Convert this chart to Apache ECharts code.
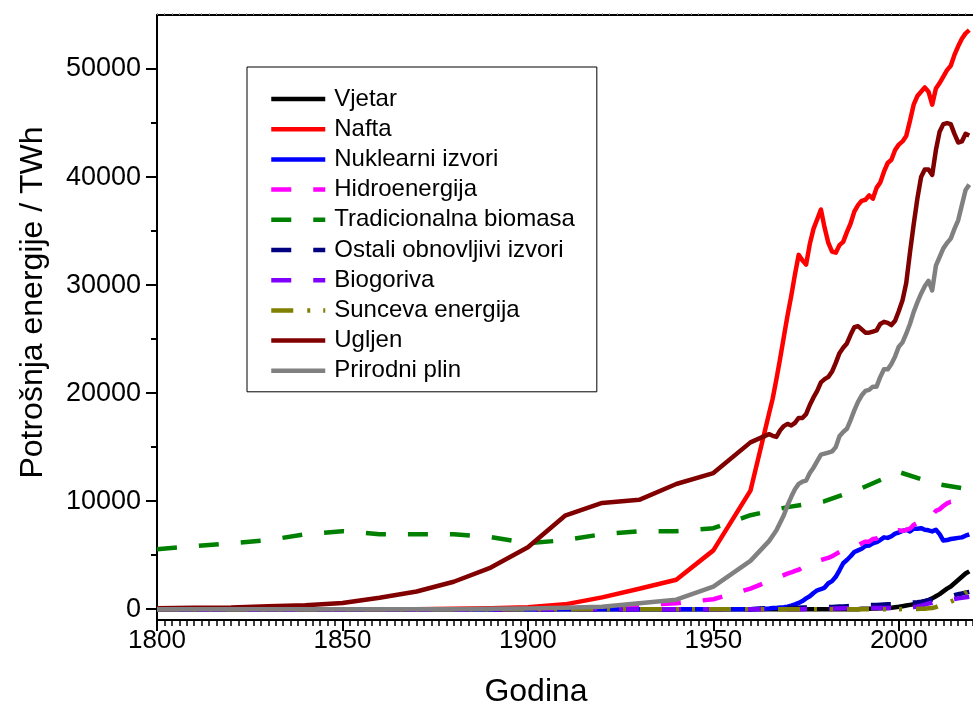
<!DOCTYPE html>
<html>
<head>
<meta charset="utf-8">
<script src="https://cdn.jsdelivr.net/npm/echarts@6/dist/echarts.min.js"></script>
<style>
html,body{margin:0;padding:0;background:#fff;}
#chart{width:973px;height:706px;}
</style>
</head>
<body>
<div id="chart"></div>
<script>
// ---- data (TWh) ----
const years = [1800,1810,1820,1830,1840,1850,1860,1870,1880,1890,1900,1910,1920,1930,1940,1950,1960,
  1965,1966,1967,1968,1969,1970,1971,1972,1973,1974,1975,1976,1977,1978,1979,1980,1981,1982,1983,1984,
  1985,1986,1987,1988,1989,1990,1991,1992,1993,1994,1995,1996,1997,1998,1999,2000,2001,2002,2003,2004,
  2005,2006,2007,2008,2009,2010,2011,2012,2013,2014,2015,2016,2017,2018,2019];

const seriesNames = ["Vjetar","Nafta","Nuklearni izvori","Hidroenergija","Tradicionalna biomasa",
  "Ostali obnovljivi izvori","Biogoriva","Sunceva energija","Ugljen","Prirodni plin"];

const wind = [0,0,0,0,0,0,0,0,0,0,0,0,0,0,0,0,0,
  0,0,0,0,0,0,0,0,0,0,0,0,0,0,0,0,0,0,0,0,
  0,0,0,0,0,40,45,50,60,70,80,90,110,140,180,220,280,340,400,450,
  520,600,720,850,1000,1200,1400,1650,1900,2100,2400,2700,3000,3300,3500];

const oil = [0,0,0,0,0,0,0,6,33,89,181,447,1097,1889,2722,5444,10972,
  18100,19500,21300,23200,25200,27200,29000,31000,32800,32300,31900,33800,35200,36100,37000,35300,33900,33100,33000,33700,
  34000,34900,35700,36800,37400,37800,37900,38300,38000,39000,39500,40500,41300,41600,42500,43000,43300,43800,45200,46700,
  47500,47900,48300,47900,46700,48200,48700,49300,49900,50300,51300,52100,52800,53300,53600];

const nuclear = [0,0,0,0,0,0,0,0,0,0,0,0,0,0,0,0,0,
  70,100,120,150,180,230,330,450,580,750,1000,1200,1500,1750,1850,2000,2400,2600,3000,3600,
  4250,4550,4900,5300,5450,5600,5850,5900,6100,6200,6400,6650,6600,6750,7000,7100,7250,7350,7200,7450,
  7450,7500,7350,7300,7200,7350,6950,6350,6400,6500,6550,6600,6650,6800,6920];

const hydro = [0,0,0,0,0,0,0,0,0,0,0,100,180,350,560,920,1900,
  2600,2750,2850,3000,3150,3300,3400,3550,3650,3850,3950,4000,4100,4350,4550,4650,4750,4900,5100,5300,
  5500,5550,5650,5850,5900,6100,6250,6250,6500,6550,6800,6900,7000,7050,7150,7300,7250,7350,7450,7800,
  8000,8250,8350,8650,8700,9100,9250,9550,9800,9950,9950,10150,10250,10450,10550];

const biomass = [5556,5833,6111,6389,6944,7222,6944,6944,6944,6667,6111,6389,6944,7222,7222,7500,8700,
  null,null,null,null,null,9450,null,null,null,null,null,null,null,null,null,10000,null,null,null,null,
  null,null,null,null,null,11200,null,null,null,null,null,null,null,null,null,12700,null,null,null,null,
  null,null,null,null,null,11600,null,null,null,null,null,null,null,null,11100];

const otherRenew = [0,0,0,0,0,0,0,0,0,0,0,0,0,0,0,0,0,
  100,105,110,115,120,130,135,140,145,150,150,160,165,170,175,180,195,210,225,240,
  260,280,300,320,340,360,370,380,390,400,420,440,460,470,490,500,530,560,590,620,
  650,700,760,830,890,950,1020,1080,1140,1200,1300,1380,1450,1530,1600];

const biofuels = [0,0,0,0,0,0,0,0,0,0,0,0,0,0,0,0,0,
  0,0,0,0,0,0,0,0,0,5,10,15,20,25,28,30,40,50,60,70,
  80,85,90,95,98,100,100,102,104,106,110,112,114,115,118,120,130,150,180,210,
  250,320,420,530,600,700,750,800,850,900,950,1000,1050,1100,1140];

const solar = [0,0,0,0,0,0,0,0,0,0,0,0,0,0,0,0,0,
  0,0,0,0,0,0,0,0,0,0,0,0,0,0,0,0,0,0,0,0,
  0,0,0,0,0,0,0,0,0,0,0,0,0,0,0,5,7,9,12,15,
  20,30,45,80,110,190,330,450,560,700,850,1050,1300,1550,1800];

const coal = [97,128,153,264,356,569,1061,1642,2542,3856,5728,8656,9833,10125,11586,12603,15442,
  16200,16050,15950,16550,16950,17150,17000,17250,17700,17700,18050,18900,19600,20200,21000,21300,21500,22000,22800,23700,
  24200,24600,25400,26100,26200,25900,25600,25600,25700,25800,26400,26600,26500,26300,26700,27600,28600,30200,33000,35600,
  38000,40000,40700,40700,40200,42500,44200,44900,45000,44900,44000,43200,43300,44000,43850];

const gas = [0,0,0,0,0,0,0,0,0,40,64,142,233,550,875,2092,4472,
  6300,6800,7300,8000,8700,9600,10400,11100,11600,11800,11900,12600,13100,13700,14300,14400,14500,14600,15000,16000,
  16400,16700,17500,18400,19200,19800,20200,20300,20600,20600,21500,22200,22200,22700,23400,24300,24700,25500,26400,27500,
  28400,29200,29900,30400,29500,31800,32600,33400,33900,34300,35200,36000,37400,38800,39300];

const xMajorTicks = [1800,1850,1900,1950,2000];
const yMajorTicks = [0,10000,20000,30000,40000,50000];
const yMinorTicks = [5000,15000,25000,35000,45000];

// ---- chart ----
const FONT = "'Liberation Sans', Arial, sans-serif";
const solid = 'solid';
const dash = [20, 22];
const dashDotDot = [22, 14, 3, 13, 3, 14];
const styles = [
  {c:'#000000', t:solid},
  {c:'#FF0000', t:solid},
  {c:'#0000FF', t:solid},
  {c:'#FF00FF', t:dash},
  {c:'#008000', t:dash},
  {c:'#000080', t:dash},
  {c:'#8000FF', t:dash},
  {c:'#808000', t:dashDotDot},
  {c:'#800000', t:solid},
  {c:'#808080', t:solid}
];
const values = [wind, oil, nuclear, hydro, biomass, otherRenew, biofuels, solar, coal, gas];

const series = seriesNames.map((name, k) => ({
  name: name,
  type: 'line',
  xAxisIndex: 0,
  yAxisIndex: 0,
  symbol: 'none',
  connectNulls: true,
  animation: false,
  lineStyle: {color: styles[k].c, width: 4.5, type: styles[k].t, cap: 'butt', join: 'round'},
  itemStyle: {color: styles[k].c},
  data: years.map((y, i) => [y, values[k][i]])
}));

const plain = v => String(Math.round(v));

const chart = echarts.init(document.getElementById('chart'), null, {renderer: 'canvas'});
chart.setOption({
  backgroundColor: '#fff',
  animation: false,
  grid: {left: 157, right: 0, top: 15, bottom: 86, containLabel: false, outerBoundsMode: 'none'},
  xAxis: [
    {
      type: 'value', position: 'bottom', min: 1800, max: 2020,
      name: 'Godina', nameLocation: 'middle', nameGap: 56,
      nameTextStyle: {fontSize: 32, fontFamily: FONT, color: '#000', padding: [0, 58, 0, 0]},
      axisLine: {show: true, onZero: false, lineStyle: {color: '#000', width: 2}},
      axisTick: {show: true, customValues: xMajorTicks, length: 11, lineStyle: {color: '#000', width: 2}},
      axisLabel: {show: true, customValues: xMajorTicks, formatter: plain, fontSize: 26, fontFamily: FONT, color: '#000', margin: 8},
      splitLine: {show: false}
    },
    {
      type: 'value', position: 'bottom', min: 1800, max: 2020, interval: 2,
      axisLine: {show: false, onZero: false},
      axisTick: {show: true, length: 6, lineStyle: {color: '#000', width: 1.5}},
      axisLabel: {show: false},
      splitLine: {show: false}
    },
    {
      type: 'value', position: 'top', min: 1800, max: 2020, interval: 2,
      axisLine: {show: true, onZero: false, lineStyle: {color: '#000', width: 2}},
      axisTick: {show: true, length: 2, lineStyle: {color: '#999', width: 1}},
      axisLabel: {show: false},
      splitLine: {show: false}
    }
  ],
  yAxis: [
    {
      type: 'value', position: 'left', min: -1000, max: 55000,
      name: 'Potrošnja energije / TWh', nameLocation: 'middle', nameGap: 108,
      nameTextStyle: {fontSize: 32, fontFamily: FONT, color: '#000', padding: [0, 0, 0, 30]},
      axisLine: {show: true, onZero: false, lineStyle: {color: '#000', width: 2}},
      axisTick: {show: true, customValues: yMajorTicks, length: 11, lineStyle: {color: '#000', width: 2}},
      axisLabel: {show: true, customValues: yMajorTicks, formatter: plain, fontSize: 27, fontFamily: FONT, color: '#000', margin: 16},
      splitLine: {show: false}
    },
    {
      type: 'value', position: 'left', min: -1000, max: 55000,
      axisLine: {show: false, onZero: false},
      axisTick: {show: true, customValues: yMinorTicks, length: 6, lineStyle: {color: '#000', width: 2}},
      axisLabel: {show: false},
      splitLine: {show: false}
    }
  ],
  legend: {
    orient: 'vertical', left: 247, top: 67,
    padding: [20, 22, 9, 22],
    itemWidth: 54, itemHeight: 24, itemGap: 6.2,
    borderColor: '#000', borderWidth: 1, backgroundColor: '#fff',
    lineStyle: {width: 4.5},
    itemStyle: {color: 'rgba(0,0,0,0)', borderWidth: 0, opacity: 0},
    textStyle: {fontSize: 24, fontFamily: FONT, color: '#000', lineHeight: 24, padding: [0, 0, 0, 4]},
    data: seriesNames
  },
  series: series
});
</script>
</body>
</html>
